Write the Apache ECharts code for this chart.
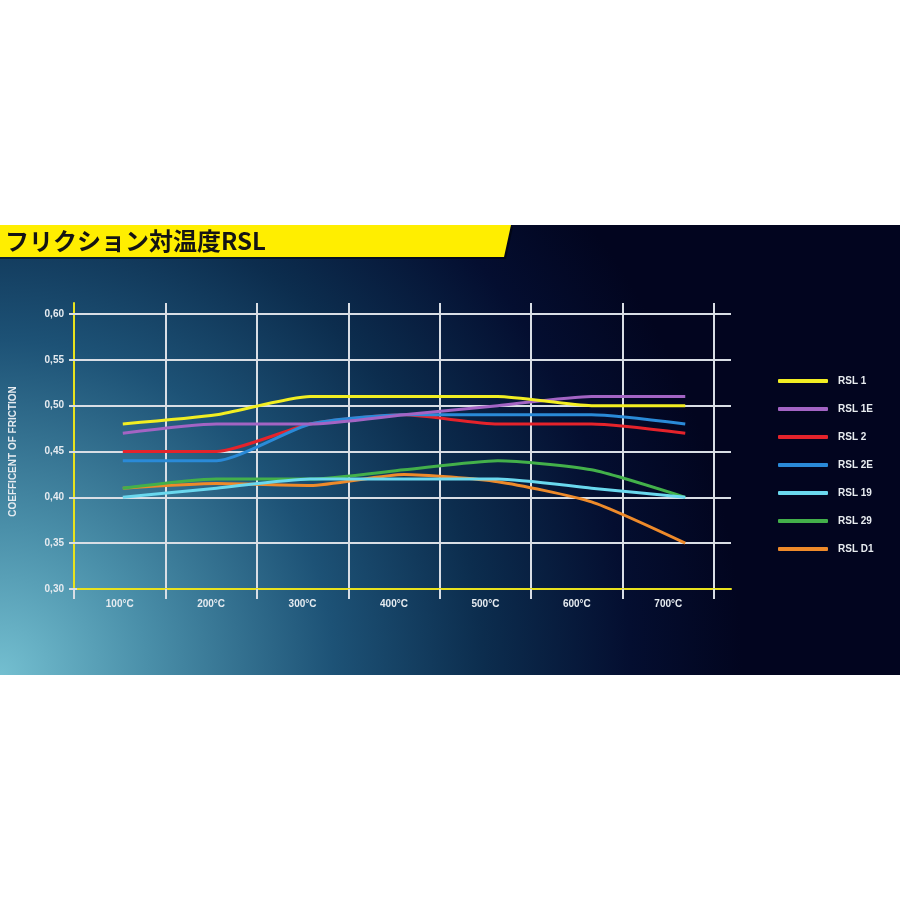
<!DOCTYPE html>
<html>
<head>
<meta charset="utf-8">
<title>フリクション対温度RSL</title>
<script src="https://cdn.jsdelivr.net/npm/echarts@6/dist/echarts.min.js"></script>
<style>
  html, body { margin: 0; padding: 0; background: #ffffff; }
  #chart { width: 900px; height: 900px; }
</style>
</head>
<body>
<div id="chart"></div>
<script>
  // カテゴリと温度
  var categories = ['100°C', '200°C', '300°C', '400°C', '500°C', '600°C', '700°C'];
  var temps = [100, 200, 300, 400, 500, 600, 700];
  var yTicks = [0.30, 0.35, 0.40, 0.45, 0.50, 0.55, 0.60];

  // 摩擦係数
  var rsl1  = [0.48, 0.49, 0.51, 0.51, 0.51, 0.50, 0.50];
  var rsl1e = [0.47, 0.48, 0.48, 0.49, 0.50, 0.51, 0.51];
  var rsl2  = [0.45, 0.45, 0.48, 0.49, 0.48, 0.48, 0.47];
  var rsl2e = [0.44, 0.44, 0.48, 0.49, 0.49, 0.49, 0.48];
  var rsl19 = [0.40, 0.41, 0.42, 0.42, 0.42, 0.41, 0.40];
  var rsl29 = [0.41, 0.42, 0.42, 0.43, 0.44, 0.43, 0.40];
  var rslD1 = [0.41, 0.415, 0.413, 0.425, 0.417, 0.395, 0.35];

  var seriesList = [
    { name: 'RSL 1',  data: rsl1,  color: '#f2ee22', z: 8 },
    { name: 'RSL 1E', data: rsl1e, color: '#a364c4', z: 7 },
    { name: 'RSL 2',  data: rsl2,  color: '#e5232b', z: 5 },
    { name: 'RSL 2E', data: rsl2e, color: '#2a8ad8', z: 6 },
    { name: 'RSL 19', data: rsl19, color: '#6ad8ee', z: 4 },
    { name: 'RSL 29', data: rsl29, color: '#43b04a', z: 3 },
    { name: 'RSL D1', data: rslD1, color: '#ee8a2a', z: 2 }
  ];

  var myChart = echarts.init(document.getElementById('chart'));

  var gridWhite = '#d9dee5';
  var axisYellow = '#e9e21e';

  var option = {
    backgroundColor: '#ffffff',
    animation: false,
    graphic: [
      {
        type: 'rect',
        z: -20,
        shape: { x: 0, y: 225, width: 900, height: 450 },
        style: {
          fill: {
            type: 'radial', x: 0, y: 1, r: 1.65,
            colorStops: [
              { offset: 0,    color: '#74bfd0' },
              { offset: 0.2,  color: '#4a8fa9' },
              { offset: 0.45, color: '#1d5276' },
              { offset: 0.65, color: '#0c2d4e' },
              { offset: 0.85, color: '#040e30' },
              { offset: 1,    color: '#02051f' }
            ]
          }
        }
      },
      {
        // バナーの影
        type: 'polygon',
        z: -15,
        shape: { points: [[0, 227], [513, 227], [506, 259], [0, 259]] },
        style: { fill: 'rgba(0,0,0,0.45)' }
      },
      {
        type: 'polygon',
        z: -14,
        shape: { points: [[0, 225], [511, 225], [504, 257], [0, 257]] },
        style: { fill: '#ffee00' }
      },
      {
        type: 'text',
        z: 10,
        x: 5,
        y: 241,
        style: {
          text: 'フリクション対温度RSL',
          font: 'bold 24px "Noto Sans CJK JP", sans-serif',
          fill: '#141414',
          verticalAlign: 'middle'
        }
      }
    ],
    legend: {
      orient: 'vertical',
      left: 773,
      top: 371,
      itemWidth: 50,
      itemHeight: 4,
      itemGap: 18,
      icon: 'roundRect',
      textStyle: {
        color: '#e8ecf0',
        fontWeight: 'bold',
        fontSize: 10,
        fontFamily: 'Liberation Sans, Arial, sans-serif',
        padding: [0, 0, 0, 5]
      },
      data: seriesList.map(function (s) { return s.name; })
    },
    grid: [
      // 縦のグリッド線とカテゴリラベル用
      { left: 74, top: 303, width: 640, height: 286 },
      // データ用
      { left: 74, top: 314, width: 657, height: 275 }
    ],
    xAxis: [
      {
        type: 'category',
        gridIndex: 0,
        data: categories,
        boundaryGap: true,
        axisLine: { show: false },
        axisTick: { show: true, length: 10, interval: 0, lineStyle: { color: gridWhite, width: 2 } },
        splitLine: { show: true, interval: 0, lineStyle: { color: gridWhite, width: 2 } },
        axisLabel: {
          color: '#e6ebf0', fontSize: 10, fontWeight: 'bold', margin: 10,
          fontFamily: 'Liberation Sans, Arial, sans-serif'
        }
      },
      {
        // 100°C→x=120, 700°C→x=685 になるように範囲を設定
        type: 'value',
        gridIndex: 1,
        min: 51.15,
        max: 748.8,
        axisLine: { show: true, lineStyle: { color: axisYellow, width: 2 } },
        axisTick: { show: false },
        axisLabel: { show: false },
        splitLine: { show: false }
      }
    ],
    yAxis: [
      {
        type: 'value',
        gridIndex: 0,
        min: 0,
        max: 1,
        axisLine: { show: true, lineStyle: { color: axisYellow, width: 2 } },
        axisTick: { show: false },
        axisLabel: { show: false },
        splitLine: { show: false }
      },
      {
        type: 'value',
        gridIndex: 1,
        min: yTicks[0],
        max: yTicks[yTicks.length - 1],
        interval: 0.05,
        name: 'COEFFICENT OF FRICTION',
        nameLocation: 'middle',
        nameRotate: 90,
        nameGap: 59,
        nameTextStyle: {
          color: '#e6ebf0', fontSize: 10, fontWeight: 'bold',
          fontFamily: 'Liberation Sans, Arial, sans-serif'
        },
        axisLine: { show: false },
        axisTick: { show: true, length: 8, lineStyle: { color: gridWhite, width: 2 } },
        splitLine: { show: true, lineStyle: { color: gridWhite, width: 2 } },
        axisLabel: {
          color: '#e6ebf0', fontSize: 10, fontWeight: 'bold', margin: 13,
          fontFamily: 'Liberation Sans, Arial, sans-serif',
          formatter: function (v) { return v.toFixed(2).replace('.', ','); }
        }
      }
    ],
    series: seriesList.map(function (s) {
      return {
        name: s.name,
        type: 'line',
        xAxisIndex: 1,
        yAxisIndex: 1,
        z: s.z,
        smooth: 0.2,
        showSymbol: false,
        symbol: 'none',
        color: s.color,
        lineStyle: { width: 3, color: s.color },
        data: s.data.map(function (v, i) { return [temps[i], v]; })
      };
    })
  };

  myChart.setOption(option);
</script>
</body>
</html>
